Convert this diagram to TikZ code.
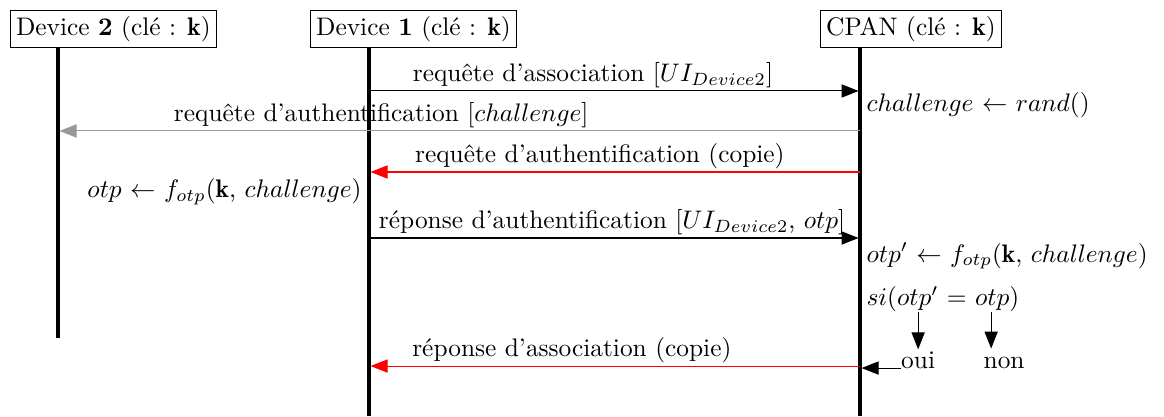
\documentclass[tikz,border=0pt]{standalone}
\usepackage{fontspec}
\usepackage{amsmath,amssymb}
\usepackage{xcolor}
\usetikzlibrary{arrows.meta}

\tikzset{
  actor/.style={draw, fill=white, inner sep=2.2pt, anchor=north west},
  lifeline/.style={line width=1.6pt},
  msg/.style={-{Triangle[length=6.7pt,width=5.2pt]}, shorten >=0.6pt},
  copymsg/.style={msg, red},
  authmsg/.style={msg, gray!80},
  lbl/.style={above, inner sep=1pt, text=black},
  note/.style={inner sep=0pt},
}

\begin{document}
\begin{tikzpicture}
  \useasboundingbox (0,0) rectangle (16.12,-5.762);

  % Actors
  \node[actor] (dev2) at (0.1385,-0.1385) {Device \textbf{2} (clé : $\mathbf{k}$)};
  \node[actor] (dev1) at (4.294,-0.1385) {Device \textbf{1} (clé : $\mathbf{k}$)};
  \node[actor] (cpan) at (11.357,-0.1385) {CPAN (clé : $\mathbf{k}$)};

  % Lifelines
  \coordinate (l2) at (0.803,-4.681);
  \coordinate (l1) at (5.111,-5.762);
  \coordinate (lc) at (11.911,-5.762);
  \draw[lifeline] (dev2.south -| l2) -- (l2);
  \draw[lifeline] (dev1.south -| l1) -- (l1);
  \draw[lifeline] (cpan.south -| lc) -- (lc);

  % Message rows
  \coordinate (m1) at (0,-1.260);
  \coordinate (m2) at (0,-1.814);
  \coordinate (m3) at (0,-2.382);
  \coordinate (m4) at (0,-3.296);
  \coordinate (m5) at (0,-5.069);

  % Messages
  \draw[msg] (l1 |- m1) -- node[lbl, pos=0.456] {requête d’association [$UI_{Device2}$]} (lc |- m1);
  \draw[authmsg] (lc |- m2) -- node[lbl, pos=0.597] {requête d’authentification [$challenge$]} (l2 |- m2);
  \draw[copymsg] (lc |- m3) -- node[lbl, pos=0.53] {requête d’authentification (copie)} (l1 |- m3);
  \draw[msg] (l1 |- m4) -- node[lbl, pos=0.495] {réponse d’authentification [$UI_{Device2}$, $otp$]} (lc |- m4);
  \draw[copymsg] (lc |- m5) -- node[lbl, pos=0.587] {réponse d’association (copie)} (l1 |- m5);

  % Computations
  \node[note, anchor=base west] (rand) at (11.994,-1.551) {$challenge$ $\leftarrow$ $rand()$};
  \node[note, anchor=base east] (otp) at (5.014,-2.735) {$otp$ $\leftarrow$ $f_{otp}$($\mathbf{k}$, $challenge$)};
  \node[note, anchor=base west] (otpc) at (11.994,-3.629) {$otp'$ $\leftarrow$ $f_{otp}$($\mathbf{k}$, $challenge$)};
  \node[note, anchor=base west] (si) at (11.994,-4.231) {$si$($otp'$ $=$ $otp$)};

  % Test result
  \node[note, anchor=base] (oui) at (12.715,-5.097) {oui};
  \node[note, anchor=base west] (non) at (13.615,-5.097) {non};
  \coordinate (nonarr) at (13.726,-4.848);
  \draw[msg] (si.south -| oui) -- (oui.north);
  \draw[msg] (si.south -| nonarr) -- (nonarr);
  \draw[msg] (oui.base west) -- (oui.base west -| lc);
\end{tikzpicture}
\end{document}
